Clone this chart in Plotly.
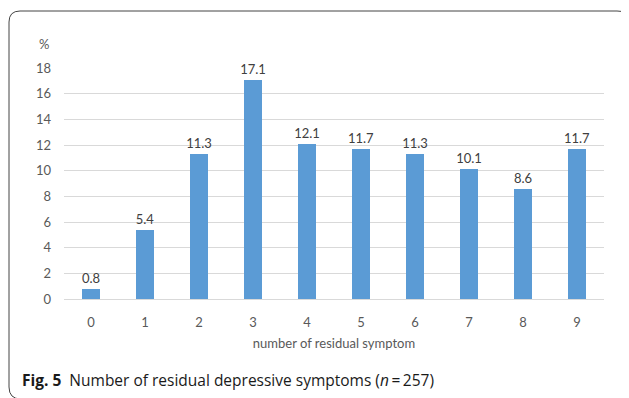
import plotly.graph_objects as go

categories = ["0", "1", "2", "3", "4", "5", "6", "7", "8", "9"]
percent = [0.8, 5.4, 11.3, 17.1, 12.1, 11.7, 11.3, 10.1, 8.6, 11.7]
y_ticks = [0, 2, 4, 6, 8, 10, 12, 14, 16, 18]

# page body has an 8px margin; work in target-pixel coords and shift
OFF = 8
W, H = 629 - OFF, 398 - OFF
L, T = 64 - OFF, 68 - OFF
pw, ph = 540, 231
R, B = W - L - pw, H - T - ph

def px(x):
    return (x - OFF - L) / pw

def py(y):
    return (T + ph - (y - OFF)) / ph

fig = go.Figure()
fig.add_trace(go.Bar(
    x=list(range(len(categories))), y=percent,
    width=0.32, marker=dict(color="#5B9BD5", line=dict(width=0)),
    text=[f"{v:.1f}" for v in percent], textposition="outside",
    constraintext="none",
    textfont=dict(family="Lato, Open Sans, sans-serif", size=13, color="#404040"),
    cliponaxis=False,
))

r = 11
path = (f"M {px(21)} {py(399)} Q {px(9)} {py(399)} {px(9)} {py(387)} "
        f"L {px(9)} {py(11 + r)} Q {px(9)} {py(11)} {px(9 + r)} {py(11)} "
        f"L {px(617)} {py(11)} Q {px(626)} {py(11)} {px(628)} {py(17)}")

fig.update_layout(
    width=W, height=H,
    margin=dict(l=L, r=R, t=T, b=B, pad=0),
    paper_bgcolor="white", plot_bgcolor="white",
    showlegend=False,
    bargap=0,
    font=dict(family="Lato, Open Sans, sans-serif", size=13, color="#595959"),
    xaxis=dict(
        tickmode="array", tickvals=list(range(len(categories))), ticktext=categories,
        range=[-0.5, 9.5], showgrid=False, zeroline=False, showline=False,
        ticks="", ticklabelstandoff=14,
        tickfont=dict(size=13, color="#595959"),
        title=dict(text="number of residual symptom", standoff=9,
                   font=dict(size=13, color="#595959")),
    ),
    yaxis=dict(
        range=[0, 18], tickmode="array", tickvals=y_ticks,
        showgrid=True, gridcolor="#D9D9D9", gridwidth=1,
        zeroline=True, zerolinecolor="#D9D9D9", zerolinewidth=1,
        showline=False, ticks="", ticklabelstandoff=12,
        tickfont=dict(size=13, color="#595959"),
    ),
    shapes=[dict(type="path", xref="paper", yref="paper", path=path,
                 line=dict(color="#444444", width=1))],
    annotations=[
        dict(text="%", xref="paper", yref="paper", x=px(44), y=py(44),
             xanchor="center", yanchor="middle", showarrow=False,
             font=dict(size=13, color="#595959")),
        dict(text="<b>Fig. 5</b>  Number of residual depressive symptoms (<i>n</i>\u2009=\u2009257)",
             xref="paper", yref="paper", x=px(20), y=py(380),
             xanchor="left", yanchor="middle", showarrow=False,
             font=dict(family="Open Sans, Noto Sans, sans-serif", size=15.5, color="#1a1a1a")),
    ],
)

fig.write_html("out.html")
